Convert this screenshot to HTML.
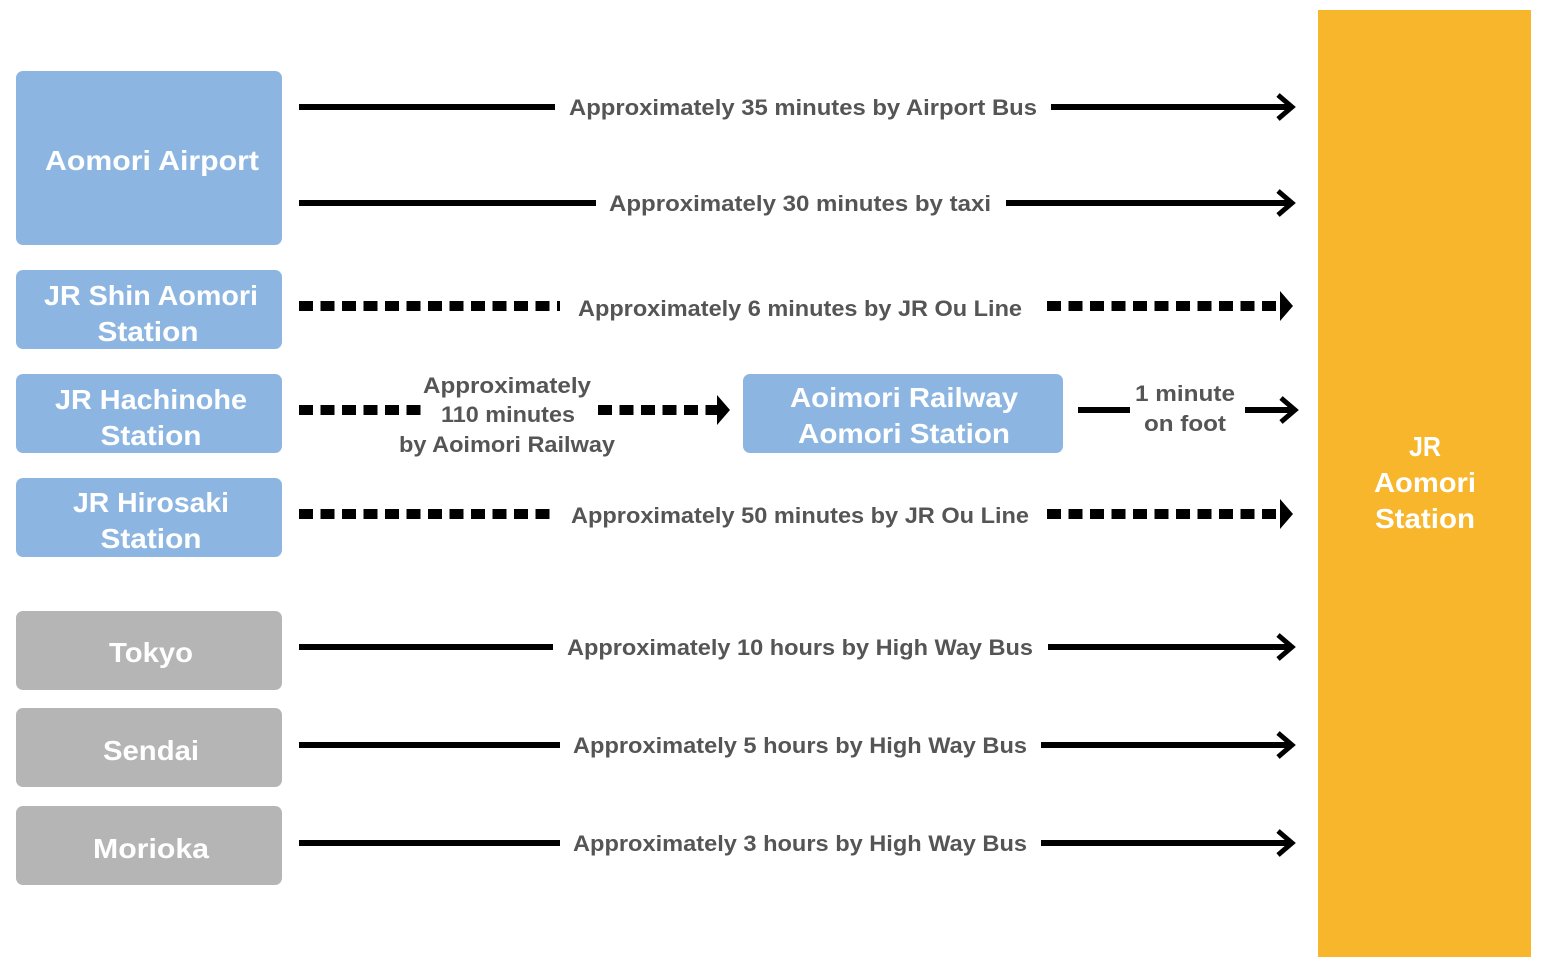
<!DOCTYPE html>
<html><head><meta charset="utf-8"><style>
html,body{margin:0;padding:0;background:#fff;}
svg{display:block;}
text{font-family:"Liberation Sans",sans-serif;font-weight:bold;}
.l{fill:#555;font-size:22px;}
.b{fill:#fff;font-size:28px;}
</style></head><body>
<svg width="1541" height="968" viewBox="0 0 1541 968" xmlns="http://www.w3.org/2000/svg">
<defs>
<g id="chev"><polyline points="-14,-12 0,0 -14,12" fill="none" stroke="#000" stroke-width="5"/></g>
<g id="fa"><polygon points="-13,-15 0,0 -13,15" fill="#000"/></g>
</defs>
<rect x="16" y="71" width="266" height="174" rx="7" fill="#8cb6e1"/>
<rect x="16" y="270" width="266" height="79" rx="7" fill="#8cb6e1"/>
<rect x="16" y="374" width="266" height="79" rx="7" fill="#8cb6e1"/>
<rect x="16" y="478" width="266" height="79" rx="7" fill="#8cb6e1"/>
<rect x="743" y="374" width="320" height="79" rx="7" fill="#8cb6e1"/>
<rect x="16" y="611" width="266" height="79" rx="7" fill="#b5b5b5"/>
<rect x="16" y="708" width="266" height="79" rx="7" fill="#b5b5b5"/>
<rect x="16" y="806" width="266" height="79" rx="7" fill="#b5b5b5"/>
<rect x="1318" y="10" width="213" height="947" fill="#f7b62c"/>

<g text-anchor="middle" class="b">
<text class="b" x="152" y="170" textLength="214" lengthAdjust="spacingAndGlyphs">Aomori Airport</text>
<text class="b" x="151" y="305" textLength="214" lengthAdjust="spacingAndGlyphs">JR Shin Aomori</text>
<text class="b" x="148" y="341" textLength="101" lengthAdjust="spacingAndGlyphs">Station</text>
<text class="b" x="151" y="409" textLength="192" lengthAdjust="spacingAndGlyphs">JR Hachinohe</text>
<text class="b" x="151" y="445" textLength="101" lengthAdjust="spacingAndGlyphs">Station</text>
<text class="b" x="151" y="512" textLength="156" lengthAdjust="spacingAndGlyphs">JR Hirosaki</text>
<text class="b" x="151" y="548" textLength="101" lengthAdjust="spacingAndGlyphs">Station</text>
<text class="b" x="904" y="407" textLength="228" lengthAdjust="spacingAndGlyphs">Aoimori Railway</text>
<text class="b" x="904" y="443" textLength="212" lengthAdjust="spacingAndGlyphs">Aomori Station</text>
<text class="b" x="151" y="662" textLength="84" lengthAdjust="spacingAndGlyphs">Tokyo</text>
<text class="b" x="151" y="760" textLength="96" lengthAdjust="spacingAndGlyphs">Sendai</text>
<text class="b" x="151" y="858" textLength="116" lengthAdjust="spacingAndGlyphs">Morioka</text>
<text class="b" x="1425" y="456" textLength="32" lengthAdjust="spacingAndGlyphs">JR</text>
<text class="b" x="1425" y="492" textLength="102" lengthAdjust="spacingAndGlyphs">Aomori</text>
<text class="b" x="1425" y="528" textLength="100" lengthAdjust="spacingAndGlyphs">Station</text>
</g>

<g stroke="#000" stroke-width="6" fill="none">
<line x1="299" y1="107" x2="555" y2="107"/><line x1="1051" y1="107" x2="1290" y2="107"/>
<line x1="299" y1="203" x2="596" y2="203"/><line x1="1006" y1="203" x2="1290" y2="203"/>
<line x1="1078" y1="410" x2="1130" y2="410"/><line x1="1245" y1="410" x2="1293" y2="410"/>
<line x1="299" y1="647" x2="553" y2="647"/><line x1="1048" y1="647" x2="1290" y2="647"/>
<line x1="299" y1="745" x2="560" y2="745"/><line x1="1041" y1="745" x2="1290" y2="745"/>
<line x1="299" y1="843" x2="560" y2="843"/><line x1="1041" y1="843" x2="1290" y2="843"/>
</g>
<g stroke="#000" stroke-width="10" fill="none" stroke-dasharray="14 7.5">
<line x1="299" y1="306" x2="560" y2="306"/><line x1="1047" y1="306" x2="1281" y2="306"/>
<line x1="299" y1="410" x2="425" y2="410"/><line x1="598" y1="410" x2="718" y2="410"/>
<line x1="299" y1="514" x2="556" y2="514"/><line x1="1047" y1="514" x2="1281" y2="514"/>
</g>
<use href="#chev" x="1292" y="107"/>
<use href="#chev" x="1292" y="203"/>
<use href="#chev" x="1295" y="410"/>
<use href="#chev" x="1292" y="647"/>
<use href="#chev" x="1292" y="745"/>
<use href="#chev" x="1292" y="843"/>
<use href="#fa" x="1293" y="306"/>
<use href="#fa" x="1293" y="514"/>
<use href="#fa" x="730" y="410"/>

<g text-anchor="middle">
<text class="l" x="803" y="115" textLength="468" lengthAdjust="spacingAndGlyphs">Approximately 35 minutes by Airport Bus</text>
<text class="l" x="800" y="211" textLength="382" lengthAdjust="spacingAndGlyphs">Approximately 30 minutes by taxi</text>
<text class="l" x="800" y="316" textLength="444" lengthAdjust="spacingAndGlyphs">Approximately 6 minutes by JR Ou Line</text>
<text class="l" x="507" y="393" textLength="168" lengthAdjust="spacingAndGlyphs">Approximately</text>
<text class="l" x="508" y="422" textLength="134" lengthAdjust="spacingAndGlyphs">110 minutes</text>
<text class="l" x="507" y="452" textLength="216" lengthAdjust="spacingAndGlyphs">by Aoimori Railway</text>
<text class="l" x="1185" y="401" textLength="100" lengthAdjust="spacingAndGlyphs">1 minute</text>
<text class="l" x="1185" y="431" textLength="82" lengthAdjust="spacingAndGlyphs">on foot</text>
<text class="l" x="800" y="523" textLength="458" lengthAdjust="spacingAndGlyphs">Approximately 50 minutes by JR Ou Line</text>
<text class="l" x="800" y="655" textLength="466" lengthAdjust="spacingAndGlyphs">Approximately 10 hours by High Way Bus</text>
<text class="l" x="800" y="753" textLength="454" lengthAdjust="spacingAndGlyphs">Approximately 5 hours by High Way Bus</text>
<text class="l" x="800" y="851" textLength="454" lengthAdjust="spacingAndGlyphs">Approximately 3 hours by High Way Bus</text>
</g>
</svg>
</body></html>
